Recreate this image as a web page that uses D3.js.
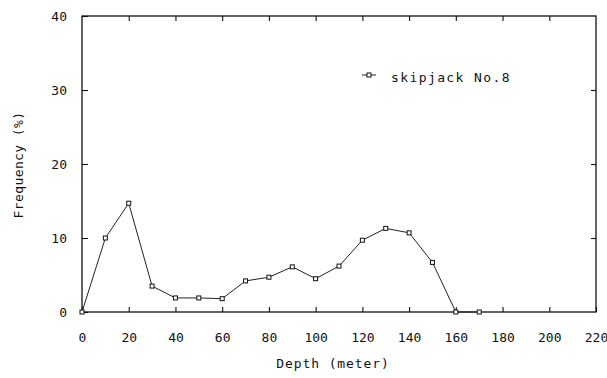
<!DOCTYPE html>
<html>
<head>
<meta charset="utf-8">
<script src="https://cdn.jsdelivr.net/npm/d3@7"></script>
<style>
  html, body { margin: 0; padding: 0; background: #fff; }
  svg { display: block; }
  text { font-family: "DejaVu Sans Mono", "Liberation Mono", monospace; fill: #111; }
</style>
</head>
<body>
<svg id="chart" width="607" height="378"></svg>
<script>
// Depth distribution of skipjack No.8
const depths = [0, 10, 20, 30, 40, 50, 60, 70, 80, 90, 100, 110, 120, 130, 140, 150, 160, 170];
const frequency = [0, 10.0, 14.7, 3.5, 1.9, 1.9, 1.8, 4.2, 4.7, 6.1, 4.5, 6.2, 9.7, 11.3, 10.7, 6.7, 0, 0];
const seriesName = "skipjack No.8";
const xTicks = [0, 20, 40, 60, 80, 100, 120, 140, 160, 180, 200, 220];
const yTicks = [0, 10, 20, 30, 40];
const xTitle = "Depth (meter)";
const yTitle = "Frequency (%)";

const svg = d3.select("#chart");
const plot = { left: 82, right: 596, top: 16, bottom: 312 };

const x = d3.scaleLinear().domain([0, 220]).range([plot.left, plot.right]);
const y = d3.scaleLinear().domain([0, 40]).range([plot.bottom, plot.top]);

const ink = "#111";

// frame
svg.append("rect")
  .attr("x", plot.left).attr("y", plot.top)
  .attr("width", plot.right - plot.left).attr("height", plot.bottom - plot.top)
  .attr("fill", "none").attr("stroke", ink).attr("stroke-width", 1.3);

// bottom axis: inward ticks, labels below
const xAxis = svg.append("g")
  .attr("transform", `translate(0,${plot.bottom})`)
  .call(d3.axisBottom(x).tickValues(xTicks).tickSizeInner(-5).tickSizeOuter(0).tickPadding(21).tickFormat(d3.format("d")));
// top axis: inward ticks only
const xAxisTop = svg.append("g")
  .attr("transform", `translate(0,${plot.top})`)
  .call(d3.axisTop(x).tickValues(xTicks.slice(1, -1)).tickSizeInner(-5).tickSizeOuter(0).tickFormat(""));
// left axis
const yAxis = svg.append("g")
  .attr("transform", `translate(${plot.left},0)`)
  .call(d3.axisLeft(y).tickValues(yTicks).tickSizeInner(-6).tickSizeOuter(0).tickPadding(15).tickFormat(d3.format("d")));
// right axis: inward ticks only
const yAxisRight = svg.append("g")
  .attr("transform", `translate(${plot.right},0)`)
  .call(d3.axisRight(y).tickValues(yTicks.slice(1, -1)).tickSizeInner(-5).tickSizeOuter(0).tickFormat(""));

[xAxis, xAxisTop, yAxis, yAxisRight].forEach(g => {
  g.select(".domain").remove();
  g.selectAll(".tick line").attr("stroke", ink).attr("stroke-width", 1.1);
  g.selectAll("text").attr("font-size", 13).attr("fill", ink)
    .attr("font-family", "'DejaVu Sans Mono', monospace");
});

// axis titles
svg.append("text")
  .attr("x", 333).attr("y", 368)
  .attr("text-anchor", "middle").attr("font-size", 13)
  .attr("letter-spacing", 0.9)
  .text(xTitle);

svg.append("text")
  .attr("transform", "translate(23,165) rotate(-90)")
  .attr("text-anchor", "middle").attr("font-size", 13)
  .attr("letter-spacing", 0.4)
  .text(yTitle);

// series line
const line = d3.line().x((d, i) => x(depths[i])).y(d => y(d));
svg.append("path")
  .datum(frequency)
  .attr("d", line)
  .attr("fill", "none")
  .attr("stroke", "#222")
  .attr("stroke-width", 1);

// square markers
const m = 4;
svg.append("g").selectAll("rect")
  .data(frequency)
  .join("rect")
  .attr("x", (d, i) => x(depths[i]) - m / 2)
  .attr("y", d => y(d) - m / 2)
  .attr("width", m).attr("height", m)
  .attr("fill", "#fff").attr("stroke", ink).attr("stroke-width", 1);

// legend
const leg = svg.append("g").attr("transform", "translate(362,75)");
leg.append("line").attr("x1", 0).attr("x2", 14).attr("y1", 0).attr("y2", 0)
  .attr("stroke", "#222").attr("stroke-width", 1);
leg.append("rect").attr("x", 5).attr("y", -2).attr("width", 4).attr("height", 4)
  .attr("fill", "#fff").attr("stroke", ink).attr("stroke-width", 1);
leg.append("text").attr("x", 29).attr("y", 7)
  .attr("font-size", 13).attr("letter-spacing", 1.4)
  .text(seriesName);
</script>
</body>
</html>
